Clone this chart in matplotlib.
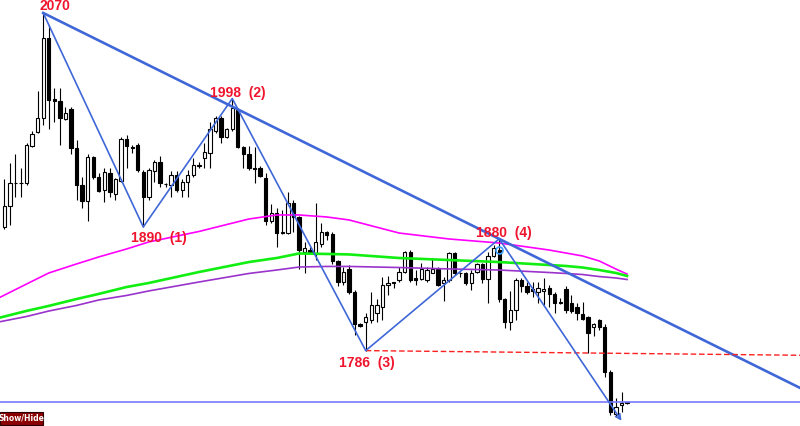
import matplotlib
matplotlib.use('Agg')
import matplotlib.pyplot as plt
import numpy as np

# candles, oldest first: open, high, low, close
opens = [1890, 1908, 1927, 1927, 1927, 1958, 1970, 1982, 2049, 1998,
         1996, 1981, 1989, 1956, 1925, 1912, 1949, 1932, 1921, 1935,
         1918, 1929, 1964, 1957, 1959, 1936, 1915, 1937, 1945, 1926,
         1925, 1934, 1921, 1928, 1934, 1941, 1948, 1952, 1971, 1982,
         1966, 1972, 1988, 1957, 1951, 1940, 1940, 1931, 1895, 1902,
         1885, 1885, 1910, 1898, 1869, 1871, 1868, 1876, 1886, 1884,
         1861, 1844, 1855, 1835, 1808, 1810, 1812, 1818, 1823, 1841,
         1843, 1845, 1852, 1869, 1847, 1846, 1845, 1851, 1855, 1843,
         1845, 1868, 1851, 1851, 1843, 1852, 1859, 1846, 1866, 1871,
         1829, 1810, 1820, 1845, 1840, 1838, 1835, 1836, 1839, 1834,
         1827, 1838, 1826, 1823, 1817, 1814, 1806, 1812, 1806, 1768,
         1733, 1740, 1742]
highs = [1930, 1944, 1951, 1940, 1961, 1971, 2004, 2070, 2060, 2007,
         2007, 1991, 1991, 1963, 1932, 1951, 1950, 1935, 1940, 1940,
         1931, 1966, 1967, 1959, 1961, 1938, 1940, 1946, 1950, 1927,
         1937, 1937, 1930, 1938, 1948, 1945, 1961, 1978, 1983, 1983,
         1973, 1998, 1990, 1958, 1958, 1957, 1941, 1935, 1909, 1906,
         1904, 1919, 1913, 1899, 1877, 1873, 1910, 1893, 1887, 1886,
         1862, 1856, 1858, 1837, 1809, 1818, 1835, 1829, 1848, 1849,
         1844, 1856, 1870, 1871, 1854, 1860, 1856, 1863, 1856, 1848,
         1869, 1869, 1852, 1852, 1854, 1860, 1860, 1869, 1875, 1880,
         1830, 1836, 1847, 1847, 1844, 1844, 1844, 1847, 1841, 1835,
         1830, 1840, 1833, 1826, 1827, 1815, 1809, 1813, 1808, 1770,
         1746, 1751, 1743]
lows = [1888, 1892, 1915, 1915, 1925, 1957, 1969, 1976, 1972, 1978,
        1959, 1980, 1951, 1913, 1906, 1895, 1930, 1919, 1911, 1915,
        1913, 1928, 1940, 1952, 1936, 1890, 1913, 1928, 1924, 1924,
        1915, 1919, 1915, 1915, 1932, 1940, 1940, 1940, 1969, 1961,
        1965, 1971, 1956, 1940, 1938, 1927, 1932, 1892, 1893, 1873,
        1884, 1884, 1886, 1855, 1851, 1867, 1862, 1873, 1879, 1859,
        1840, 1841, 1834, 1799, 1806, 1786, 1809, 1810, 1812, 1833,
        1839, 1844, 1851, 1844, 1841, 1845, 1844, 1851, 1840, 1828,
        1844, 1850, 1848, 1841, 1837, 1851, 1843, 1826, 1865, 1827,
        1805, 1803, 1812, 1835, 1834, 1831, 1826, 1824, 1823, 1818,
        1825, 1818, 1818, 1812, 1812, 1784, 1798, 1803, 1764, 1732,
        1730, 1734, 1741]
closes = [1908, 1927, 1927, 1927, 1959, 1968, 1982, 2049, 1997, 1996,
          1982, 1986, 1956, 1925, 1912, 1949, 1932, 1920, 1936, 1919,
          1930, 1964, 1958, 1956, 1938, 1915, 1938, 1945, 1927, 1926,
          1934, 1921, 1928, 1934, 1942, 1942, 1953, 1972, 1982, 1966,
          1972, 1990, 1957, 1951, 1940, 1939, 1933, 1895, 1902, 1885,
          1885, 1910, 1898, 1871, 1872, 1868, 1877, 1886, 1883, 1861,
          1844, 1852, 1835, 1808, 1807, 1814, 1824, 1824, 1841, 1843,
          1843, 1852, 1869, 1845, 1845, 1855, 1854, 1855, 1841, 1845,
          1868, 1851, 1851, 1843, 1851, 1859, 1846, 1866, 1872, 1829,
          1810, 1820, 1845, 1840, 1835, 1836, 1839, 1838, 1834, 1826,
          1826, 1820, 1819, 1818, 1813, 1801, 1808, 1806, 1768, 1734,
          1739, 1742, 1742]

# moving averages, read at these bars
ma_idx = [-1, 4, 8, 13, 17, 22, 26, 35, 44, 49, 53, 58, 62, 71, 80, 89,
          98, 101, 104, 107, 110, 112]
ma_magenta = [1830.3, 1842.0, 1851.3, 1858.9, 1864.8, 1871.5, 1877.4, 1886.2,
              1896.7, 1900.1, 1900.1, 1898.4, 1895.9, 1884.9, 1879.9, 1876.5,
              1870.6, 1868.1, 1865.6, 1861.4, 1854.6, 1850.4]
ma_green = [1813.5, 1819.4, 1823.6, 1829.4, 1833.7, 1839.5, 1842.9, 1852.1,
            1860.5, 1863.9, 1867.7, 1867.3, 1866.9, 1863.9, 1862.2, 1860.5,
            1858.0, 1857.2, 1855.9, 1853.8, 1851.3, 1848.8]
ma_purple = [1810.1, 1814.7, 1819.3, 1824.0, 1828.6, 1832.4, 1836.2, 1843.7,
             1850.9, 1853.8, 1856.3, 1856.8, 1856.8, 1855.9, 1854.7, 1853.8,
             1851.7, 1850.9, 1850.0, 1848.3, 1847.1, 1845.8]

# zigzag pivots
piv_idx = [7, 25, 41, 65, 89]
piv_price = [2070, 1890, 1998, 1786, 1880]
piv_text = ['2070', '1890  (1)', '1998  (2)', '1786  (3)', '1880  (4)']
piv_offset = [(12, 7), (16, -11), (6, 6), (1, -12), (5, 6)]
target_idx, target_price = 111, 1727
support_level = 1742.6

BLUE = '#3f67d8'
RED = '#f0142d'

fig = plt.figure(figsize=(8, 4.26), dpi=100)
ax = fig.add_axes([0, 0, 1, 1])
ax.set_xlim(-0.77, 143.1)
ax.set_ylim(1722.6, 2080.9)
ax.axis('off')

x = np.arange(len(opens))
o = np.array(opens, float)
c = np.array(closes, float)
up = c >= o

# wicks then bodies
ax.vlines(x, lows, highs, color='black', lw=0.8, zorder=2)
body_lo = np.minimum(o, c)
body_h = np.maximum(np.abs(c - o), 0.4)
ax.bar(x[up], body_h[up], bottom=body_lo[up], width=0.6,
       facecolor='white', edgecolor='black', lw=0.8, zorder=2.5)
ax.bar(x[~up], body_h[~up], bottom=body_lo[~up], width=0.6,
       facecolor='black', edgecolor='black', lw=0.8, zorder=2.5)

# moving averages
ax.plot(ma_idx, ma_magenta, color='#ff00ff', lw=1.2, zorder=3)
ax.plot(ma_idx, ma_green, color='#11ee11', lw=1.9, zorder=3)
ax.plot(ma_idx, ma_purple, color='#9933cc', lw=1.2, zorder=3)

# support line
ax.axhline(support_level, color='#7878ff', lw=1.2, zorder=3)

# descending trend line through pivot 0 and pivot 4
slope = (piv_price[4] - piv_price[0]) / (piv_idx[4] - piv_idx[0])
x_end = 143.1
ax.plot([piv_idx[0], x_end], [piv_price[0], piv_price[0] + slope * (x_end - piv_idx[0])],
        color=BLUE, lw=1.9, zorder=4)

# red dashed line through lows of bar 65 and bar 105
s2 = (lows[105] - lows[65]) / (105 - 65)
ax.plot([65, x_end], [lows[65], lows[65] + s2 * (x_end - 65)],
        color='#ff2020', lw=1.0, ls=(0, (4, 2)), zorder=4)

# zigzag
ax.plot(piv_idx, piv_price, color=BLUE, lw=1.2, zorder=4)
ax.annotate('', xy=(target_idx, target_price), xytext=(piv_idx[-1], piv_price[-1]),
            arrowprops=dict(arrowstyle='->', color=BLUE, lw=1.2,
                            shrinkA=0, shrinkB=0, mutation_scale=9), zorder=4)
ax.plot(piv_idx[-1], opens[89], marker='o', ms=5, mfc='none', mec='#3aa0ff',
        mew=1.2, zorder=5)

for i, p, t, off in zip(piv_idx, piv_price, piv_text, piv_offset):
    ax.annotate(t, xy=(i, p), xytext=off, textcoords='offset pixels',
                ha='center', va='center', color=RED, fontsize=10,
                fontweight='bold', family='Liberation Sans', zorder=6)

# Show/Hide button
fig.patches.append(plt.Rectangle((0, 0.002), 0.054, 0.031, transform=fig.transFigure,
                                 facecolor='#8b0000', edgecolor='#2a0000', lw=0.8))
fig.text(0.027, 0.018, 'Show/Hide', color='white', fontsize=5.5, fontweight='bold',
         ha='center', va='center')

plt.savefig('out.png', dpi=100)
